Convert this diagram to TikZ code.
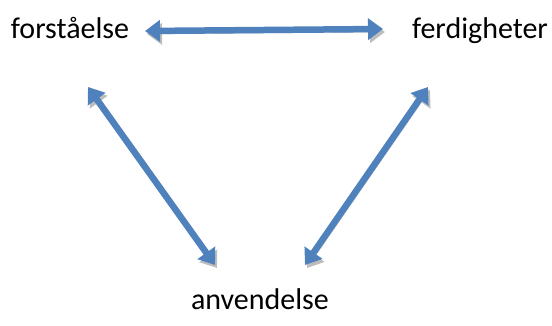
\documentclass[tikz,border=0pt]{standalone}
\usepackage{fontspec}
\setmainfont{Carlito}
\usetikzlibrary{arrows.meta}
\definecolor{linkblue}{HTML}{4F81BD}
\definecolor{shadowgray}{HTML}{BDBDBD}

\begin{document}
\begin{tikzpicture}[x=1pt, y=1pt,
        label/.style={anchor=base, inner sep=0pt, font=\fontsize{30}{34}\selectfont},
        link/.style={linkblue, line width=6.5pt,
            {Triangle[length=15pt, width=21pt]}-{Triangle[length=15pt, width=21pt]},
            preaction={draw=shadowgray, transform canvas={shift={(2pt,-3pt)}}}}]
    % --- FRAME ---
    \useasboundingbox (0, 0) rectangle (552, 325);

    % =========================================
    % LABELS
    % =========================================
    \node[label] (fo) at (70, 287) {forståelse};
    \node[label] (fe) at (480, 287) {ferdigheter};
    \node[label] (an) at (260, 16) {anvendelse};

    % =========================================
    % DOUBLE ARROWS
    % =========================================
    \draw[link] ([shift={(75,7)}]fo.base) -- ([shift={(-97,9)}]fe.base);
    \draw[link] ([shift={(18,-49)}]fo.base) -- ([shift={(-45,44)}]an.base);
    \draw[link] ([shift={(-52,-49)}]fe.base) -- ([shift={(45,44)}]an.base);
\end{tikzpicture}
\end{document}
